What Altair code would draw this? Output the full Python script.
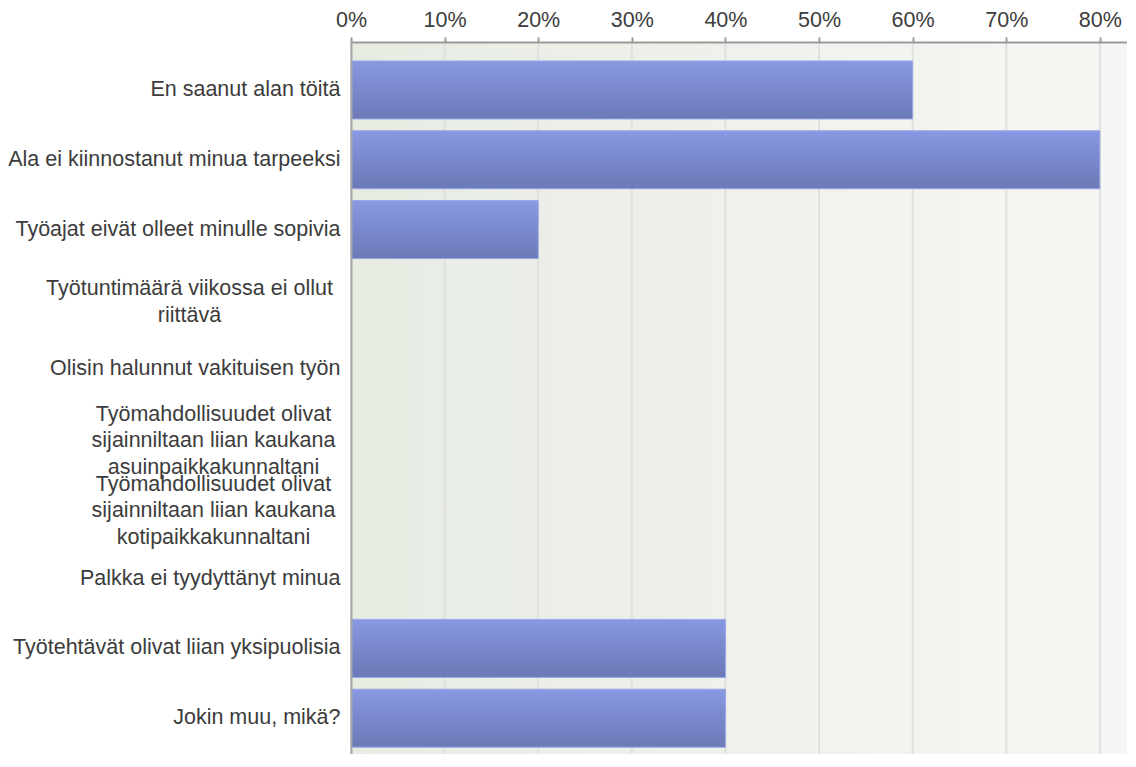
import altair as alt
import pandas as pd

# ---- data -------------------------------------------------------------
categories = [
    "En saanut alan töitä",
    "Ala ei kiinnostanut minua tarpeeksi",
    "Työajat eivät olleet minulle sopivia",
    "Työtuntimäärä viikossa ei ollut|riittävä",
    "Olisin halunnut vakituisen työn",
    "Työmahdollisuudet olivat|sijainniltaan liian kaukana|asuinpaikkakunnaltani",
    "Työmahdollisuudet olivat|sijainniltaan liian kaukana|kotipaikkakunnaltani",
    "Palkka ei tyydyttänyt minua",
    "Työtehtävät olivat liian yksipuolisia",
    "Jokin muu, mikä?",
]
shares = [0.60, 0.80, 0.20, 0.0, 0.0, 0.0, 0.0, 0.0, 0.40, 0.40]
tick_values = [0.0, 0.1, 0.2, 0.3, 0.4, 0.5, 0.6, 0.7, 0.8]
x_max = 0.829

df = pd.DataFrame({"cat": categories, "share": shares})
ticks_df = pd.DataFrame({"v": tick_values})
bg_df = pd.DataFrame({"a": [0.0], "b": [x_max]})

FONT = "Liberation Sans"
TXT = "#3c3c3c"
FS = 21.5

x_scale = alt.Scale(domain=[0, x_max], nice=False, zero=True)
y_scale = alt.Scale(domain=categories, paddingInner=0.169, paddingOuter=0.1847, align=0.736)

x_axis = alt.Axis(
    orient="top", values=tick_values, format=".0%", title=None, grid=False,
    domainColor="#9a9a9a", domainWidth=2, tickColor="#9a9a9a", tickWidth=2, tickSize=5,
    labelFont=FONT, labelFontSize=FS, labelColor=TXT, labelPadding=6, labelFlush=False,
    zindex=1,
)
y_axis = alt.Axis(
    title=None, grid=False, ticks=False, tickSize=0,
    domainColor="#a8a8a8", domainWidth=2,
    labelFont=FONT, labelFontSize=FS, labelColor=TXT, labelLimit=0,
    labelLineHeight=26.5,
    labelExpr="split(datum.label, '|')",
    labelAlign={"condition": {"test": "indexof(datum.value, '|') >= 0", "value": "center"}, "value": "right"},
    labelPadding={
        "condition": [
            {"test": "indexof(datum.value, 'ollut|') >= 0", "value": 162},
            {"test": "indexof(datum.value, 'kaukana|') >= 0", "value": 138},
        ],
        "value": 11,
    },
    labelOffset={
        "condition": [
            {"test": "indexof(datum.value, 'ollut|') >= 0", "value": -10},
            {"test": "indexof(datum.value, 'kaukana|') >= 0", "value": -24},
        ],
        "value": 0,
    },
    zindex=1,
)

bg = alt.Chart(bg_df).mark_rect(
    color=alt.Gradient(
        gradient="linear", x1=0, y1=0, x2=1, y2=0,
        stops=[alt.GradientStop(offset=0, color="#e7ece3"),
               alt.GradientStop(offset=1, color="#f6f7f4")],
    )
).encode(
    x=alt.X("a:Q", scale=x_scale, axis=x_axis),
    x2="b:Q",
)

grid = alt.Chart(ticks_df).mark_rule(color="#e0e0e0", strokeWidth=2).encode(
    x=alt.X("v:Q", scale=x_scale),
)

bars = alt.Chart(df).transform_filter("datum.share > 0").mark_bar(
    color=alt.Gradient(
        gradient="linear", x1=0, y1=0, x2=0, y2=1,
        stops=[alt.GradientStop(offset=0, color="#8898e2"),
               alt.GradientStop(offset=1, color="#6b79b7")],
    ),
    stroke="#9ba7e6", strokeWidth=1,
).encode(
    x=alt.X("share:Q", scale=x_scale),
    y=alt.Y("cat:N", scale=y_scale, axis=y_axis, sort=categories),
)

chart = alt.layer(bg, grid, bars).properties(
    width=776, height=712,
    autosize=alt.AutoSizeParams(type="none"),
    padding={"left": 343, "top": 34, "right": 0, "bottom": 0},
    background="white",
).configure_view(stroke=None)

chart.save("out.html", embed_options={"renderer": "svg", "actions": False})
